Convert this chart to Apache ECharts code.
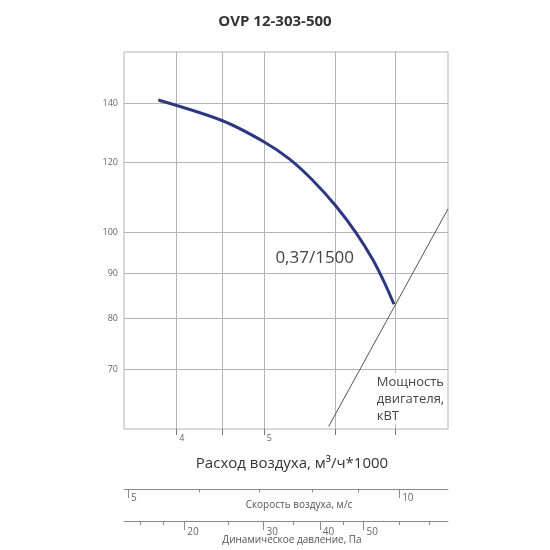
<!DOCTYPE html>
<html>
<head>
<meta charset="utf-8">
<script src="https://cdn.jsdelivr.net/npm/echarts@6/dist/echarts.min.js"></script>
<style>
  html, body { margin: 0; padding: 0; background: #fff; }
  #chart { width: 550px; height: 550px; }
</style>
</head>
<body>
<div id="chart"></div>
<script>
// fan curve (flow in m3/h*1000, pressure in Pa)
const flow     = [3.82, 4.50, 5.00, 5.34, 5.66, 6.01, 6.33, 6.60, 6.81, 6.97]
const pressure = [141.2, 133.8, 126.7, 121.1, 114.7, 107.2, 99.9, 93.3, 87.6, 83.0]
// motor power line
const powerFlow  = [5.9, 8.0]
const powerValue = [60.4, 106.4]

const yTicks      = [70, 80, 90, 100, 120, 140]
const xGridVals   = [4, 4.5, 5, 6, 7]
const xLabelVals  = [4, 5]
const speedTicks  = [5, 6, 7, 8, 9, 10]
const speedLabels = [5, 10]
const dynTicks    = [16, 18, 20, 25, 30, 35, 40, 45, 50, 60, 70]
const dynLabels   = [20, 30, 40, 50]

const curveLabel = '0,37/1500'
const powerLabel = 'Мощность\nдвигателя,\nкВТ'

const FONT = '"Open Sans", "Noto Sans", sans-serif'
const GRID_C = '#b4b4b4'

const chart = echarts.init(document.getElementById('chart'), null, { renderer: 'canvas' })

// secondary scale axis (speed / dynamic pressure), thin grid strip
const scaleAxis = (gridIndex, min, max, ticks, len, labels, extra) => ({
  type: 'log', logBase: 10, gridIndex, min, max, position: 'bottom',
  axisLine: { show: !labels, lineStyle: { color: '#8a8a8a', width: 1 } },
  axisTick: { show: true, customValues: ticks, length: len, lineStyle: { color: '#8a8a8a' } },
  axisLabel: labels
    ? { show: true, customValues: labels, color: '#666', fontSize: 10, fontFamily: FONT,
        align: 'left', padding: [0, 0, 0, 3], margin: extra.margin }
    : { show: false },
  splitLine: { show: false },
  ...(labels ? {} : { name: extra.name, nameLocation: 'middle', nameGap: extra.gap,
      nameTextStyle: { color: '#555', fontSize: 10, fontFamily: FONT, padding: [0, 0, 0, extra.shift] } }),
})

chart.setOption({
  backgroundColor: '#fff',
  animation: false,
  title: {
    text: 'OVP 12-303-500', left: 'center', top: 9,
    textStyle: { fontSize: 15, fontWeight: 'bold', color: '#333', fontFamily: FONT },
  },
  grid: [
    { left: 124, right: 102, top: 52, bottom: 121, show: true, borderColor: GRID_C, borderWidth: 1 },
    { left: 124, right: 102, top: 488, height: 1 },
    { left: 124, right: 102, top: 488, height: 1 },
    { left: 124, right: 102, top: 520, height: 1 },
    { left: 124, right: 102, top: 520, height: 1 },
  ],
  xAxis: [
    {
      type: 'log', logBase: 10, min: 3.5, max: 8, gridIndex: 0,
      name: 'Расход воздуха, м³/ч*1000', nameLocation: 'middle', nameGap: 27,
      nameTextStyle: { color: '#333', fontSize: 15, fontFamily: FONT, padding: [0, 0, 0, 12] },
      axisLine: { show: false },
      axisTick: { show: true, customValues: xGridVals, length: 6, lineStyle: { color: '#777' } },
      axisLabel: { customValues: xLabelVals, color: '#666', fontSize: 9, fontFamily: FONT,
        align: 'left', padding: [0, 0, 0, 3], margin: 5 },
      splitLine: { show: true, lineStyle: { color: GRID_C, width: 1 } },
    },
    scaleAxis(1, 4.95, 11.33, speedTicks, 3.5, null, { name: 'Скорость воздуха, м/с', gap: 11, shift: 26 }),
    scaleAxis(2, 4.95, 11.33, speedLabels, 9, speedLabels, { margin: 4 }),
    scaleAxis(3, 14.7, 77, dynTicks, 4, null, { name: 'Динамическое давление, Па', gap: 14, shift: 12 }),
    scaleAxis(4, 14.7, 77, dynLabels, 9, dynLabels, { margin: 6 }),
  ],
  yAxis: [
    {
      type: 'log', logBase: 10, min: 60, max: 160, gridIndex: 0,
      axisLine: { show: false },
      axisTick: { show: false, customValues: yTicks },
      axisLabel: { customValues: yTicks, color: '#666', fontSize: 9, fontFamily: FONT, margin: 6 },
      splitLine: { show: true, lineStyle: { color: GRID_C, width: 1 } },
    },
    { type: 'value', gridIndex: 1, show: false },
    { type: 'value', gridIndex: 2, show: false },
    { type: 'value', gridIndex: 3, show: false },
    { type: 'value', gridIndex: 4, show: false },
  ],
  series: [
    {
      name: 'curve', type: 'line', xAxisIndex: 0, yAxisIndex: 0,
      data: flow.map((f, i) => [f, pressure[i]]),
      smooth: 0.3, showSymbol: false, symbol: 'none',
      lineStyle: { color: '#2e3880', width: 3 },
      markPoint: {
        symbol: 'circle', symbolSize: 0,
        data: [{ coord: [5.15, 93.7], value: curveLabel }],
        label: { show: true, position: 'inside', align: 'left', verticalAlign: 'middle',
          formatter: curveLabel, color: '#444', fontSize: 17, fontFamily: FONT },
      },
      z: 3,
    },
    {
      name: 'power', type: 'line', xAxisIndex: 0, yAxisIndex: 0,
      data: powerFlow.map((f, i) => [f, powerValue[i]]),
      showSymbol: false, symbol: 'none',
      lineStyle: { color: '#555', width: 1 },
      markPoint: {
        symbol: 'circle', symbolSize: 0,
        data: [{ coord: [6.67, 64.9], value: powerLabel }],
        label: { show: true, position: 'inside', align: 'left', verticalAlign: 'middle',
          formatter: powerLabel, color: '#444', fontSize: 13, lineHeight: 17, fontFamily: FONT,
          backgroundColor: '#fff' },
      },
      z: 2,
    },
  ],
})
</script>
</body>
</html>
